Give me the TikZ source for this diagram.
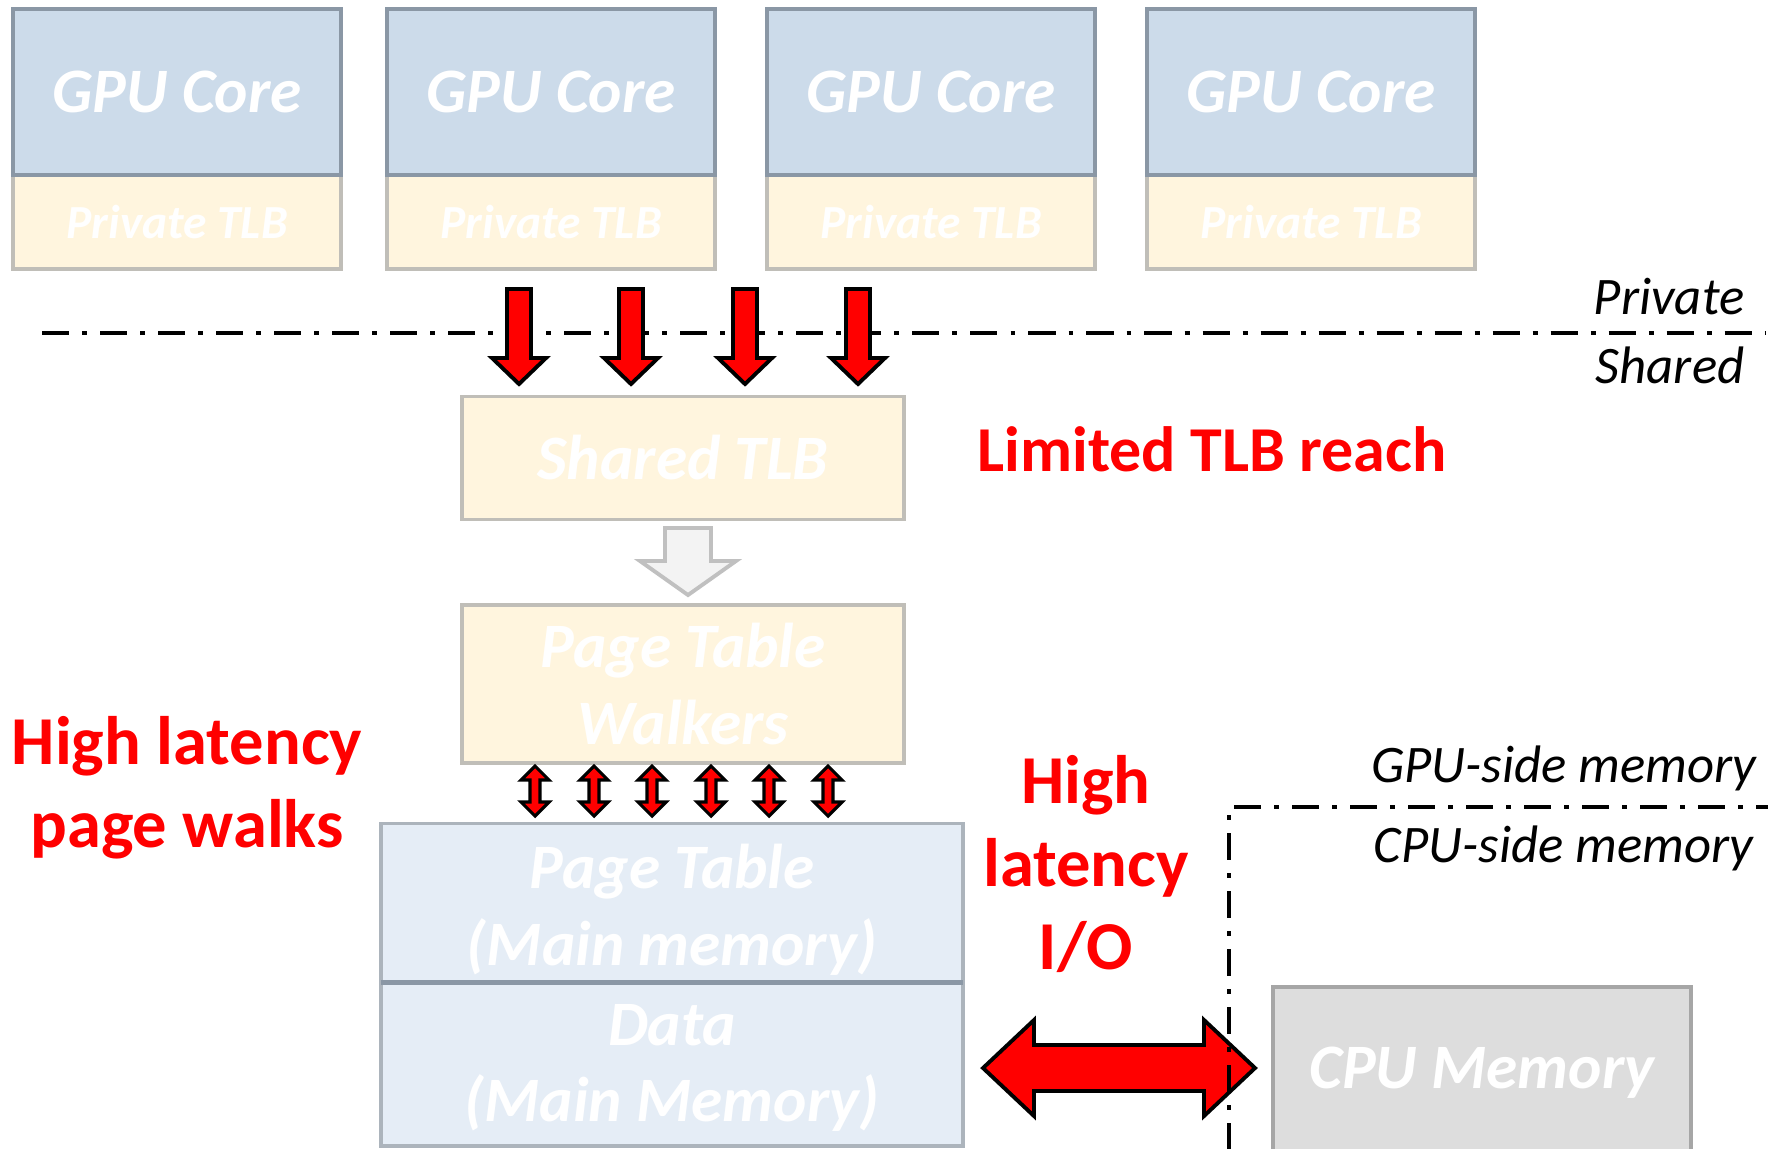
\documentclass[tikz,border=0pt]{standalone}
\usepackage{fontspec}
\setmainfont{Carlito}
\usetikzlibrary{positioning,calc}

\definecolor{corefill}{RGB}{204,219,234}
\definecolor{coreline}{RGB}{138,151,165}
\definecolor{tlbfill}{RGB}{255,245,222}
\definecolor{tlbline}{RGB}{192,190,184}
\definecolor{memfill}{RGB}{229,237,246}
\definecolor{memline}{RGB}{172,180,188}
\definecolor{cpufill}{RGB}{221,221,221}
\definecolor{cpuline}{RGB}{166,166,166}
\definecolor{hollowfill}{RGB}{243,243,243}
\definecolor{hollowline}{RGB}{192,192,192}

\begin{document}
\begin{tikzpicture}[
    x=0.01cm, y=-0.01cm,
    boxtext/.style={text=white, inner sep=0pt, outer sep=0pt, align=center,
        font=\fontsize{18}{21.8}\selectfont\bfseries\itshape},
    core/.style={boxtext, draw=coreline, line width=1.1pt, fill=corefill,
        minimum width=3.28cm, minimum height=1.66cm},
    ptlb/.style={boxtext, draw=tlbline, line width=1.1pt, fill=tlbfill,
        minimum width=3.28cm, minimum height=0.94cm,
        font=\fontsize{13.5}{16}\selectfont\bfseries\itshape},
    tlbbox/.style={boxtext, draw=tlbline, line width=1.1pt, fill=tlbfill},
    membox/.style={boxtext, draw=memline, line width=1.1pt, fill=memfill,
        minimum width=5.81cm},
    cpubox/.style={boxtext, draw=cpuline, line width=1.1pt, fill=cpufill},
    redarrow/.style={draw=black, fill=red, line width=1.1pt, line join=miter},
    thinarrow/.style={draw=black, fill=red, line width=0.9pt, line join=miter},
    hollow/.style={draw=hollowline, fill=hollowfill, line width=1.1pt},
    redlabel/.style={text=red, align=center, inner sep=0pt,
        font=\fontsize{19.5}{23.6}\selectfont\bfseries},
    sidelabel/.style={text=black, inner sep=0pt,
        font=\fontsize{15}{18}\selectfont\itshape},
    border/.style={line width=1.2pt,
        dash pattern=on 7.7pt off 3.7pt on 1.4pt off 3.7pt}
]
    \useasboundingbox (0,0) rectangle (1777,1148);

    % GPU cores with their private TLBs
    \foreach \cx [count=\i] in {177,551,931,1311}{
        \node[ptlb] (ptlb\i) at (\cx,222) {Private TLB};
        \node[core, above=0pt of ptlb\i] (core\i) {GPU Core};
    }

    % Private / shared boundary
    \draw[border] (42,333) -- (1766,333);
    \node[sidelabel, anchor=east] (priv) at (1745,297) {Private};
    \node[sidelabel, anchor=east] (shrd) at (1745,365) {Shared};

    % Shared TLB and walkers
    \node[tlbbox, minimum width=4.42cm, minimum height=1.23cm] (stlb) at (683,458) {Shared TLB};
    \node[tlbbox, minimum width=4.41cm, minimum height=1.58cm] (ptw) at (683,684) {Page Table\\Walkers};
    \node[redlabel, font=\fontsize{18.2}{22}\selectfont\bfseries] (reach) at (1212,449) {Limited TLB reach};

    % Requests into the shared TLB
    \foreach \ax in {519,631,745,858}
        \draw[redarrow] (\ax-12,289) -- (\ax+12,289) -- (\ax+12,358) -- (\ax+27,358)
            -- (\ax,384) -- (\ax-27,358) -- (\ax-12,358) -- cycle;

    % Miss goes to the walkers
    \draw[hollow] (665,528) -- (711,528) -- (711,561) -- (736,561) -- (688,595)
        -- (640,561) -- (665,561) -- cycle;

    % Main memory
    \node[membox, minimum height=1.59cm] (ptable) at (672,903) {};
    \node[membox, minimum height=1.63cm, below=0pt of ptable] (data) {};
    \draw[coreline, line width=1.3pt] (ptable.south west) -- (ptable.south east);
    \node[boxtext] (ptabletxt) at ($(ptable.center)+(0,7)$) {Page Table\\(Main memory)};
    \node[boxtext] (datatxt) at ($(data.center)+(0,4)$) {Data\\(Main Memory)};

    % Walker accesses
    \foreach \ax in {535,594,652,711,769,828}
        \draw[thinarrow] (\ax,766) -- (\ax+14,780) -- (\ax+5,780) -- (\ax+5,802)
            -- (\ax+14,802) -- (\ax,816) -- (\ax-14,802) -- (\ax-5,802)
            -- (\ax-5,780) -- (\ax-14,780) -- cycle;
    \node[redlabel] (walks) at (187,788) {High latency\\page walks};

    % CPU side
    \node[cpubox, minimum width=4.18cm, minimum height=1.72cm] (cpu) at (1482,1073) {CPU Memory};
    \draw[redarrow] (983,1068) -- (1034,1020) -- (1034,1045) -- (1204,1045) -- (1204,1020)
        -- (1255,1068) -- (1204,1116) -- (1204,1091) -- (1034,1091) -- (1034,1116) -- cycle;
    \node[redlabel] (io) at (1086,864) {High\\latency\\I/O};

    % GPU-side / CPU-side boundary
    \draw[border] (1229,1150) -- (1229,807) -- (1768,807);
    \node[sidelabel, anchor=east] (gside) at (1757,768) {GPU-side memory};
    \node[sidelabel, anchor=east] (cside) at (1754,848) {CPU-side memory};
\end{tikzpicture}
\end{document}
